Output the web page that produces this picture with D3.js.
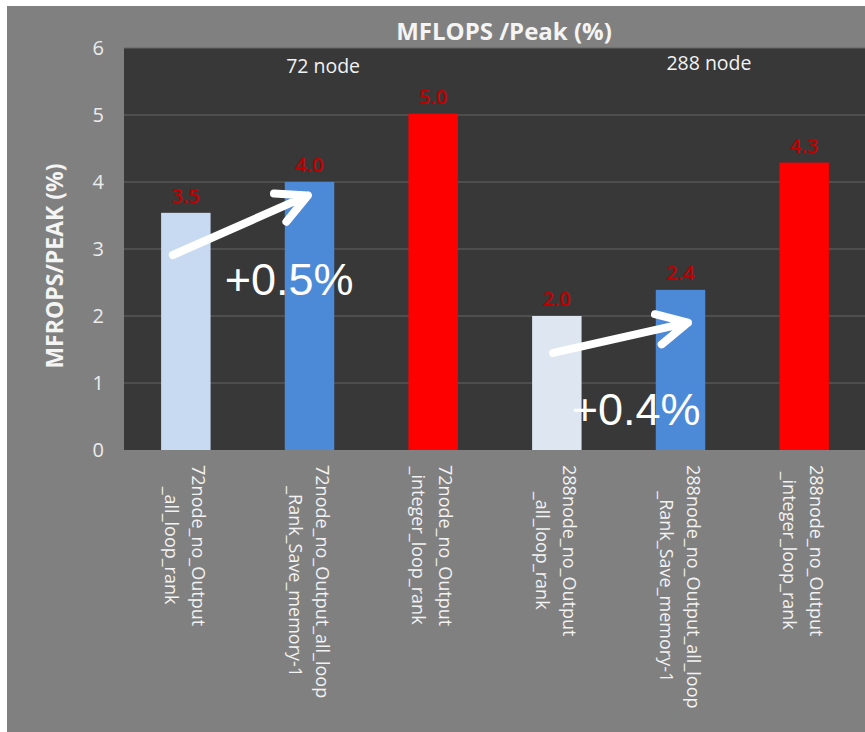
<!DOCTYPE html>
<html>
<head>
<meta charset="utf-8">
<script src="https://cdn.jsdelivr.net/npm/d3@7"></script>
<style>
  html, body { margin: 0; padding: 0; background: #fff; }
  svg { display: block; }
</style>
</head>
<body>
<div id="chart"></div>
<script>
// Categories (two text lines each, as in the rotated axis labels)
const categories = [
  "72node_no_Output\n_all_loop_rank",
  "72node_no_Output_all_loop\n_Rank_Save_memory-1",
  "72node_no_Output\n_integer_loop_rank",
  "288node_no_Output\n_all_loop_rank",
  "288node_no_Output_all_loop\n_Rank_Save_memory-1",
  "288node_no_Output\n_integer_loop_rank"
];
const values = [3.54, 4.0, 5.02, 2.0, 2.39, 4.29];
const barColors = ["#c8daf1", "#4c8ad8", "#ff0000", "#dde6f1", "#4c8ad8", "#ff0000"];
const yTicks = [0, 1, 2, 3, 4, 5, 6];

// Annotations: positions in category-index units (0 = first bar centre) and value units
const groupLabels = ["72 node", "288 node"];
const groupLabelPos = [[1.11, 5.63], [4.23, 5.67]];
const arrowFrom = [[-0.105, 2.91], [2.97, 1.45]];
const arrowTo = [[0.987, 3.8], [4.06, 1.9]];
const gainLabels = ["+0.5%", "+0.4%"];
const gainLabelPos = [[0.315, 2.31], [3.12, 0.37]];

const W = 865, H = 732;
const plot = { left: 124, top: 48, right: 866, bottom: 450 };

const svg = d3.select("#chart").append("svg")
  .attr("width", W)
  .attr("height", H);

// grey chart background (white strip on top / left)
svg.append("rect")
  .attr("x", 7).attr("y", 6)
  .attr("width", W - 7).attr("height", H - 6)
  .attr("fill", "#808080");

// dark plot area
svg.append("rect")
  .attr("x", plot.left).attr("y", plot.top)
  .attr("width", plot.right - plot.left).attr("height", plot.bottom - plot.top)
  .attr("fill", "#383838");

const x = d3.scaleBand()
  .domain(categories)
  .range([plot.left, plot.right])
  .paddingInner(0.6)
  .paddingOuter(0.3);

const y = d3.scaleLinear()
  .domain([0, 6])
  .range([plot.bottom, plot.top]);

// position helper for annotations (fractional category index)
const px = f => x(categories[0]) + x.bandwidth() / 2 + f * x.step();

// gridlines
svg.append("g")
  .selectAll("line")
  .data(yTicks.slice(1))
  .enter().append("line")
  .attr("x1", plot.left).attr("x2", plot.right)
  .attr("y1", d => y(d)).attr("y2", d => y(d))
  .attr("stroke", "#646464")
  .attr("stroke-width", 1);

// y axis tick labels
const yAxis = svg.append("g")
  .attr("transform", `translate(${plot.left},0)`)
  .call(d3.axisLeft(y).tickValues(yTicks).tickFormat(d3.format("d")).tickSize(0).tickPadding(20));
yAxis.select(".domain").remove();
yAxis.selectAll("text")
  .attr("fill", "#ececec")
  .attr("font-family", "Open Sans, sans-serif")
  .attr("font-size", 20);

// bars
svg.selectAll(".bar")
  .data(values)
  .enter().append("rect")
  .attr("class", "bar")
  .attr("x", (d, i) => x(categories[i]))
  .attr("y", d => y(d))
  .attr("width", x.bandwidth())
  .attr("height", d => y(0) - y(d))
  .attr("fill", (d, i) => barColors[i]);

// value labels
svg.selectAll(".val")
  .data(values)
  .enter().append("text")
  .attr("class", "val")
  .attr("x", (d, i) => x(categories[i]) + x.bandwidth() / 2)
  .attr("y", d => y(d) - 10)
  .attr("text-anchor", "middle")
  .attr("font-family", "Open Sans, sans-serif")
  .attr("font-size", 20)
  .attr("font-weight", 600)
  .attr("fill", "#c00000")
  .text(d => d3.format(".1f")(d));

// x axis labels (rotated, two lines, centred on the longest line)
categories.forEach((c, i) => {
  const lines = c.split("\n");
  const cx = x(c) + x.bandwidth() / 2;
  const g = svg.append("g");
  const texts = lines.map((line, j) => g.append("text")
    .attr("font-family", "Open Sans, sans-serif")
    .attr("font-size", 18)
    .attr("fill", "#f2f2f2")
    .attr("text-anchor", "middle")
    .text(line));
  const longest = d3.max(texts, t => t.node().getComputedTextLength());
  const yc = plot.bottom + 15 + longest / 2;
  texts.forEach((t, j) => {
    t.attr("transform", `translate(${cx + 6 - j * 27},${yc}) rotate(90)`);
  });
});

// chart title
svg.append("text")
  .attr("x", 504).attr("y", 40)
  .attr("text-anchor", "middle")
  .attr("font-family", "Open Sans, sans-serif")
  .attr("font-size", 24)
  .attr("font-weight", 700)
  .attr("fill", "#f4f4f4")
  .text("MFLOPS /Peak (%)");

// y axis title
svg.append("text")
  .attr("transform", "translate(63,266) rotate(-90)")
  .attr("text-anchor", "middle")
  .attr("font-family", "Open Sans, sans-serif")
  .attr("font-size", 23)
  .attr("font-weight", 700)
  .attr("fill", "#f4f4f4")
  .text("MFROPS/PEAK (%)");

// group labels
groupLabels.forEach((t, i) => {
  svg.append("text")
    .attr("x", px(groupLabelPos[i][0]))
    .attr("y", y(groupLabelPos[i][1]))
    .attr("text-anchor", "middle")
    .attr("font-family", "Open Sans, sans-serif")
    .attr("font-size", 19.5)
    .attr("fill", "#f2f2f2")
    .text(t);
});

// improvement arrows
const headLen = 34, headAngle = 27 * Math.PI / 180;
arrowFrom.forEach((f, i) => {
  const x0 = px(f[0]), y0 = y(f[1]);
  const x1 = px(arrowTo[i][0]), y1 = y(arrowTo[i][1]);
  const a = Math.atan2(y0 - y1, x0 - x1);
  const ax1 = x1 + headLen * Math.cos(a + headAngle), ay1 = y1 + headLen * Math.sin(a + headAngle);
  const ax2 = x1 + headLen * Math.cos(a - headAngle), ay2 = y1 + headLen * Math.sin(a - headAngle);
  svg.append("path")
    .attr("d", `M${x0},${y0}L${x1},${y1}M${ax1},${ay1}L${x1},${y1}L${ax2},${ay2}`)
    .attr("fill", "none")
    .attr("stroke", "#fff")
    .attr("stroke-width", 8)
    .attr("stroke-linecap", "round")
    .attr("stroke-linejoin", "round");
});

// improvement labels
gainLabels.forEach((t, i) => {
  svg.append("text")
    .attr("x", px(gainLabelPos[i][0]))
    .attr("y", y(gainLabelPos[i][1]))
    .attr("font-family", "Liberation Sans, Arial, sans-serif")
    .attr("font-size", 45)
    .attr("fill", "#fff")
    .text(t);
});
</script>
</body>
</html>
